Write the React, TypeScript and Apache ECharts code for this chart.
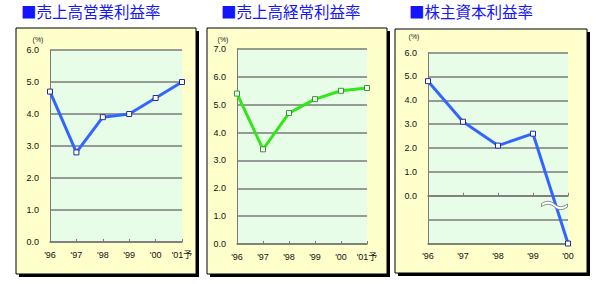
import React, { useEffect, useRef } from 'react';
import * as echarts from 'echarts';

// ---- data ----
const titles = ['■売上高営業利益率', '■売上高経常利益率', '■株主資本利益率'];
const categoriesA = ["'96", "'97", "'98", "'99", "'00", "'01予"];
const categoriesB = ["'96", "'97", "'98", "'99", "'00", "'01予"];
const categoriesC = ["'96", "'97", "'98", "'99", "'00"];
const operatingMargin = [4.7, 2.8, 3.9, 4.0, 4.5, 5.0];
const ordinaryMargin = [5.4, 3.4, 4.7, 5.2, 5.5, 5.6];
// last value is far off-scale; the chart shows it at the broken bottom of the axis
const roe = [4.8, 3.1, 2.1, 2.6, -2.0];
const yMaxA = 6;
const yMaxB = 7;
const yMaxC = 6;
const yMinC = -2;
const unitLabel = '(%)';

const FONT = '"Liberation Sans", "Noto Sans CJK JP", sans-serif';
const GRID_LINE = '#7a7a7a';

echarts.graphic.registerShape(
  'breakMark',
  echarts.graphic.extendPath(
    'M0,3 C5,0 9,0 13,3.5 C17,7 21,7 26,3.5 L26,6.5 C21,10 17,10 13,6.5 C9,3 5,3 0,6 Z',
    {}
  )
);

function xAxisBase(gridIndex: number, data: string[]) {
  return {
    type: 'category',
    gridIndex,
    data,
    boundaryGap: false,
    axisLine: { show: true, onZero: false, lineStyle: { color: GRID_LINE, width: 1.5 } },
    axisTick: { show: true, inside: true, length: 3, interval: 0, lineStyle: { color: GRID_LINE } },
    axisLabel: { color: '#111', fontSize: 9, fontFamily: FONT, margin: 8, interval: 0 },
    splitLine: { show: false },
  };
}

function yAxisBase(gridIndex: number, min: number, max: number) {
  return {
    type: 'value',
    gridIndex,
    min,
    max,
    interval: 1,
    axisLine: { show: true, lineStyle: { color: GRID_LINE, width: 1 } },
    axisTick: { show: false },
    axisLabel: {
      color: '#111',
      fontSize: 9,
      fontFamily: FONT,
      margin: 11,
      formatter: (v: number) => (v < 0 ? '' : v.toFixed(1)),
    },
    splitLine: { show: true, lineStyle: { color: GRID_LINE, width: 1.5 } },
  };
}

function lineSeries(xi: number, yi: number, data: number[], color: string, border: string) {
  return {
    type: 'line',
    xAxisIndex: xi,
    yAxisIndex: yi,
    data,
    symbol: 'rect',
    symbolSize: 5,
    showAllSymbol: true,
    lineStyle: { color, width: 3 },
    itemStyle: { color: '#ffffff', borderColor: border, borderWidth: 1 },
    z: 5,
  };
}

function box(x: number, y: number, w: number, h: number) {
  return [
    { type: 'rect', z: -20, shape: { x: x + 3, y: y + 3, width: w, height: h }, style: { fill: '#000' }, silent: true },
    { type: 'rect', z: -19, shape: { x, y, width: w, height: h }, style: { fill: '#FFFFCC', stroke: '#000', lineWidth: 1 }, silent: true },
  ];
}

function unitText(x: number, y: number) {
  return { type: 'text', z: 10, x, y, style: { text: unitLabel, fontSize: 7, fontFamily: FONT, fill: '#222', align: 'center', verticalAlign: 'middle' } };
}

export default function App() {
  const ref = useRef<HTMLDivElement>(null);
  useEffect(() => {
    document.body.style.margin = '0';
    const chart = echarts.init(ref.current!, null, { renderer: 'svg' });
    const plotBg = '#E8FDE8';
    chart.setOption({
      animation: false,
      backgroundColor: '#ffffff',
      title: titles.map((t, i) => ({
        text: t,
        left: [21, 221, 409][i],
        top: 3,
        padding: 0,
        textStyle: { color: '#1414FF', fontSize: 15.5, fontWeight: 'normal', fontFamily: '"Noto Sans CJK JP", sans-serif' },
      })),
      grid: [
        { left: 50, top: 50, width: 132, height: 192, show: true, backgroundColor: plotBg, borderWidth: 0 },
        { left: 237, top: 49, width: 130, height: 195, show: true, backgroundColor: plotBg, borderWidth: 0 },
        { left: 428, top: 52.5, width: 140, height: 191, show: true, backgroundColor: plotBg, borderWidth: 0 },
      ],
      xAxis: [
        xAxisBase(0, categoriesA),
        xAxisBase(1, categoriesB),
        { ...xAxisBase(2, categoriesC), axisTick: { show: false } },
        {
          ...xAxisBase(2, categoriesC),
          position: 'bottom',
          axisLine: { show: true, onZero: true, lineStyle: { color: GRID_LINE, width: 1.5 } },
          axisLabel: { show: false },
        },
      ],
      yAxis: [yAxisBase(0, 0, yMaxA), yAxisBase(1, 0, yMaxB), yAxisBase(2, yMinC, yMaxC)],
      series: [
        lineSeries(0, 0, operatingMargin, '#3366FF', '#2a2a90'),
        lineSeries(1, 1, ordinaryMargin, '#33E61A', '#2a9a2a'),
        lineSeries(2, 2, roe, '#3366FF', '#2a2a90'),
      ],
      graphic: {
        elements: [
          ...box(16, 28, 180, 246),
          ...box(207, 28, 180, 246),
          ...box(395, 29, 192, 244),
          unitText(38, 39),
          unitText(223, 39),
          unitText(414, 36),
          {
            type: 'breakMark',
            z: 100,
            x: 541.5,
            y: 200.5,
            style: { fill: '#ffffff', stroke: '#888', lineWidth: 1 },
            silent: true,
          },
        ],
      },
    });
    return () => chart.dispose();
  }, []);
  return <div ref={ref} style={{ width: 600, height: 284 }} />;
}
